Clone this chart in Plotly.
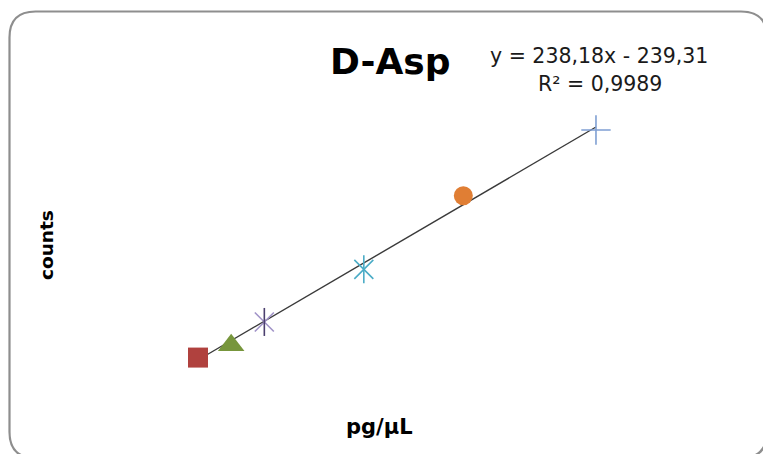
import plotly.graph_objects as go

# Calibration standards for D-Asp
conc = [5, 10, 15, 30, 45, 65]               # pg/µL
counts = [1100, 1850, 3285, 6510, 11030, 15060]
slope, intercept = 238.18, -239.31
r2 = 0.9989

W, H = 763, 454

def px(x):
    return x / W

def py(y):
    return 1 - y / H

fig = go.Figure()

# Linear trendline from the fitted equation over the measured range
tx = [min(conc), max(conc)]
ty = [slope * v + intercept for v in tx]
fig.add_trace(go.Scatter(x=tx, y=ty, mode="lines",
                         line=dict(color="#3a3a3a", width=1.4),
                         hoverinfo="skip", showlegend=False))

def star(i, arm_color, stem_color):
    fig.add_trace(go.Scatter(x=[conc[i]], y=[counts[i]], mode="markers",
                             marker=dict(symbol="x-thin-open", size=19, color=arm_color,
                                         line=dict(width=1.6)),
                             showlegend=False))
    fig.add_trace(go.Scatter(x=[conc[i]], y=[counts[i]], mode="markers",
                             marker=dict(symbol="line-ns-open", size=20, color=stem_color,
                                         line=dict(width=1.6)),
                             showlegend=False))

fig.add_trace(go.Scatter(x=[conc[0]], y=[counts[0]], mode="markers",
                         marker=dict(symbol="square", size=20, color="#B0413E"),
                         showlegend=False))
fig.add_trace(go.Scatter(x=[conc[1]], y=[counts[1]], mode="markers",
                         marker=dict(symbol="triangle-up", size=23, color="#77963C"),
                         showlegend=False))
star(2, "#A193C8", "#4B3F6E")
star(3, "#4BACC6", "#4BACC6")
fig.add_trace(go.Scatter(x=[conc[4]], y=[counts[4]], mode="markers",
                         marker=dict(symbol="circle", size=19, color="#E07E34"),
                         showlegend=False))
fig.add_trace(go.Scatter(x=[conc[5]], y=[counts[5]], mode="markers",
                         marker=dict(symbol="cross-thin-open", size=21, color="#7F9FD3",
                                     line=dict(width=1.6)),
                         showlegend=False))

# Rounded chart-area border
x0, y0, x1, y1, r = 9.5, 11.5, 767, 458, 26
path = (f"M {px(x0)},{py(y0 + r)} "
        f"Q {px(x0)},{py(y0)} {px(x0 + r)},{py(y0)} "
        f"L {px(x1 - r)},{py(y0)} "
        f"Q {px(x1)},{py(y0)} {px(x1)},{py(y0 + r)} "
        f"L {px(x1)},{py(y1 - r)} "
        f"Q {px(x1)},{py(y1)} {px(x1 - r)},{py(y1)} "
        f"L {px(x0 + r)},{py(y1)} "
        f"Q {px(x0)},{py(y1)} {px(x0)},{py(y1 - r)} Z")
fig.add_shape(type="path", path=path, xref="paper", yref="paper",
              line=dict(color="#8E8E8E", width=2.2), layer="below")

font = "DejaVu Sans"

def label(x, y, text, size, color="#000000", angle=0):
    fig.add_annotation(x=px(x), y=py(y), xref="paper", yref="paper",
                       xanchor="center", yanchor="middle",
                       text=text, showarrow=False, textangle=angle,
                       font=dict(family=font, size=size, color=color))

label(390, 62, "<b>D-Asp</b>", 36)
label(599, 56, f"y = {slope:.2f}x - {abs(intercept):.2f}".replace(".", ","), 20.5, "#1a1a1a")
label(600, 84, f"R² = {r2:.4f}".replace(".", ","), 20.5, "#1a1a1a")
label(46, 245, "<b>counts</b>", 18.5, angle=-90)
label(379, 427, "<b>pg/µL</b>", 21)

fig.update_layout(
    width=W, height=H,
    margin=dict(l=0, r=0, t=0, b=0),
    paper_bgcolor="white", plot_bgcolor="white",
    xaxis=dict(range=[-24.85, 90.18], visible=False, fixedrange=True),
    yaxis=dict(range=[-4814, 23032], visible=False, fixedrange=True),
    showlegend=False,
)

fig.write_html("out.html", config={"displayModeBar": False})
